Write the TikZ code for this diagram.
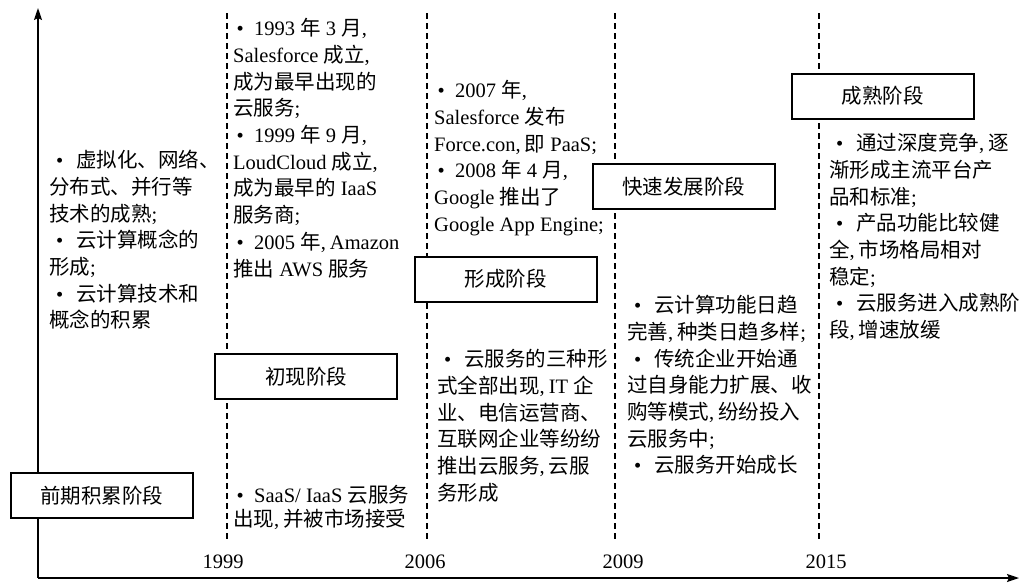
\documentclass[tikz,border=0pt]{standalone}
\usepackage{fontspec}
\setmainfont{Liberation Serif}
\newfontfamily\zhfont{Noto Sans CJK SC}
\newcommand\zh[1]{{\zhfont #1}}
\newcommand\cma{,\kern4pt}
\newcommand\bulA{\makebox[14pt]{\textbullet}\hspace{7pt}}
\newcommand\bulB{\makebox[21pt]{\textbullet}\hspace{6pt}}
\newcommand\fst{\rule{0pt}{20pt}}
\newcommand\txtfont{\fontsize{20.5pt}{26.7pt}\selectfont}
\newcommand\tightfont{\fontsize{20.5pt}{23.5pt}\selectfont}
\usetikzlibrary{arrows.meta}
\begin{document}
\begin{tikzpicture}[x=1pt,y=-1pt,
  stagebox/.style={draw,line width=2pt,fill=white,minimum width=182pt,minimum height=45pt,inner sep=0pt,font=\txtfont},
  txt/.style={anchor=north west,align=left,inner sep=0pt,font=\txtfont},
  yearlbl/.style={font=\txtfont,inner sep=0pt},
  axisline/.style={line width=1.6pt,-{Stealth[length=12pt,width=8pt,inset=2pt]}},
  dline/.style={line width=1.2pt,dash pattern=on 6pt off 4pt}]
\fill[white] (0,0) rectangle (1027,582);
\useasboundingbox (0,0) rectangle (1027,582);

% axes
\coordinate (O) at (38,578);
\coordinate (Ytop) at (38,8);
\coordinate (Xend) at (1019,578);
\draw[axisline] (O) -- (Ytop);
\draw[axisline] (O) -- (Xend);

% dashed year lines
\foreach \n/\xx in {d1/227,d2/427,d3/615,d4/819}{
  \coordinate (\n t) at (\xx,13);
  \coordinate (\n b) at (\xx,539);
  \draw[dline] (\n t) -- (\n b);
}

% year labels
\node[yearlbl] (y1) at (223,562) {1999};
\node[yearlbl] (y2) at (425,562) {2006};
\node[yearlbl] (y3) at (623,562) {2009};
\node[yearlbl] (y4) at (826,562) {2015};

% stage boxes
\node[stagebox] (b0) at (101.5,495.5) {\zh{前期积累阶段}};
\node[stagebox] (b1) at (306,376.5) {\zh{初现阶段}};
\node[stagebox] (b2) at (505.5,279) {\zh{形成阶段}};
\node[stagebox] (b3) at (683.5,186.5) {\zh{快速发展阶段}};
\node[stagebox] (b4) at (882.5,96) {\zh{成熟阶段}};

% text blocks
\node[txt] (t0) at (49,147.5) {\fst\bulB\zh{虚拟化、网络、}\\
\zh{分布式、并行等}\\
\zh{技术的成熟};\\
\bulB\zh{云计算概念的}\\
\zh{形成};\\
\bulB\zh{云计算技术和}\\
\zh{概念的积累}};

\node[txt] (t1) at (233,15.5) {\fst\bulA 1993 \zh{年} 3 \zh{月},\\
Salesforce \zh{成立},\\
\zh{成为最早出现的}\\
\zh{云服务};\\
\bulA 1999 \zh{年} 9 \zh{月},\\
LoudCloud \zh{成立},\\
\zh{成为最早的} IaaS\\
\zh{服务商};\\
\bulA 2005 \zh{年}\cma Amazon\\
\zh{推出} AWS \zh{服务}};

\node[txt,font=\tightfont] (t1b) at (233,482.5) {\fst\bulA SaaS/ IaaS \zh{云服务}\\
\zh{出现}\cma\zh{并被市场接受}};

\node[txt] (t2) at (434,77.5) {\fst\bulA 2007 \zh{年},\\
Salesforce \zh{发布}\\
Force.con\cma\zh{即} PaaS;\\
\bulA 2008 \zh{年} 4 \zh{月},\\
Google \zh{推出了}\\
Google App Engine;};

\node[txt] (t2b) at (437,346.5) {\fst\bulB\zh{云服务的三种形}\\
\zh{式全部出现}\cma IT \zh{企}\\
\zh{业、电信运营商、}\\
\zh{互联网企业等纷纷}\\
\zh{推出云服务}\cma\zh{云服}\\
\zh{务形成}};

\node[txt] (t3) at (627,292.5) {\fst\bulB\zh{云计算功能日趋}\\
\zh{完善}\cma\zh{种类日趋多样};\\
\bulB\zh{传统企业开始通}\\
\zh{过自身能力扩展、收}\\
\zh{购等模式}\cma\zh{纷纷投入}\\
\zh{云服务中};\\
\bulB\zh{云服务开始成长}};

\node[txt] (t4) at (829,130.5) {\fst\bulB\zh{通过深度竞争}\cma\zh{逐}\\
\zh{渐形成主流平台产}\\
\zh{品和标准};\\
\bulB\zh{产品功能比较健}\\
\zh{全}\cma\zh{市场格局相对}\\
\zh{稳定};\\
\bulB\zh{云服务进入成熟阶}\\
\zh{段}\cma\zh{增速放缓}};
\end{tikzpicture}
\end{document}
